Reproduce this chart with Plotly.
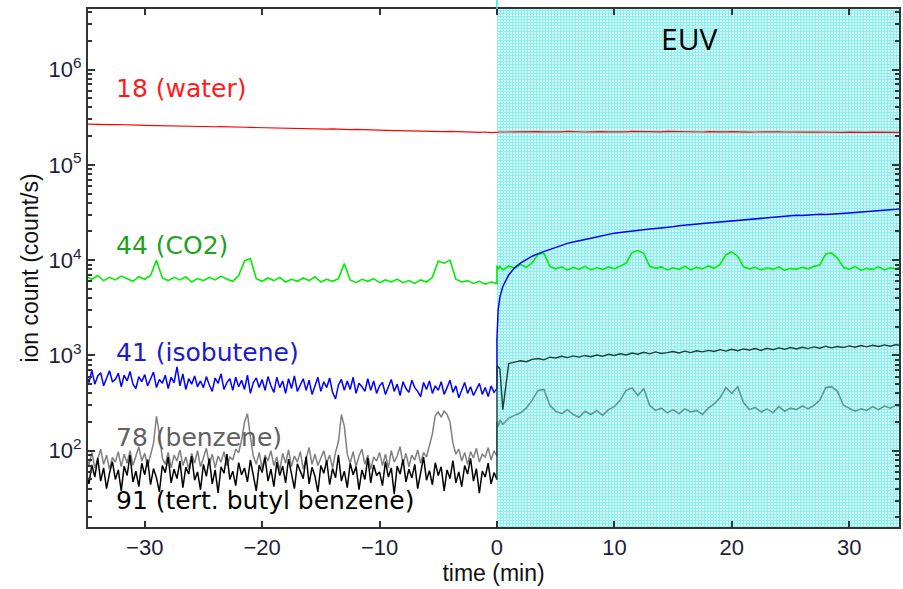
import plotly.graph_objects as go

# ---------------- data ----------------
pre_time = [-35.0 + 0.5 * i for i in range(71)]                 # -35 .. 0 (min), coarse
pre_time_fine = [-35.0 + 0.25 * i for i in range(141)]          # -35 .. 0 (min), fine
post_time = [0.0, 0.1, 0.25] + [0.5 * i for i in range(1, 71)]  # 0 .. 35 (min)

red_pre = [268000, 266000, 267000, 265000, 264000, 265000, 263000, 262000, 263000, 261000,
           260000, 259000, 260000, 258000, 257000, 258000, 256000, 255000, 254000, 255000,
           253000, 252000, 251000, 252000, 250000, 249000, 250000, 248000, 247000, 246000,
           247000, 245000, 244000, 243000, 244000, 242000, 241000, 240000, 241000, 239000,
           238000, 237000, 238000, 236000, 235000, 234000, 235000, 233000, 232000, 233000,
           231000, 230000, 229000, 230000, 228000, 227000, 228000, 226000, 225000, 226000,
           224000, 223000, 224000, 222000, 221000, 222000, 220000, 219000, 221000, 218000, 217000]
red_post = [219000, 220000, 221000, 222000, 221000, 222000, 223000, 221000, 222000, 223000,
            222000, 221000, 223000, 222000, 224000, 222000, 223000, 221000, 222000, 224000,
            223000, 222000, 221000, 223000, 222000, 224000, 223000, 221000, 222000, 223000,
            222000, 224000, 223000, 222000, 221000, 223000, 222000, 221000, 223000, 222000,
            221000, 222000, 223000, 221000, 222000, 220000, 221000, 222000, 221000, 220000,
            222000, 221000, 220000, 221000, 219000, 220000, 221000, 220000, 219000, 220000,
            221000, 219000, 220000, 219000, 218000, 219000, 220000, 219000, 218000, 219000,
            218000, 219000, 218000]

green_pre = [6700, 6300, 6900, 6100, 6600, 6200, 6800, 6400, 6000, 6700,
             6300, 6900, 10000, 6500, 6100, 6600, 6200, 6700, 5900, 6400,
             6100, 6600, 6200, 6800, 6300, 6000, 6900, 9800, 10400, 6400,
             6000, 6500, 6100, 6600, 5900, 6300, 6000, 6500, 6100, 6700,
             5900, 6300, 6000, 6400, 9200, 6200, 5800, 6300, 6000, 6400,
             5800, 6200, 5900, 6300, 5800, 6100, 5700, 6200, 5900, 6600,
             9800, 9300, 10000, 6300, 5900, 6100, 5700, 6000, 5600, 5900, 5700]
green_post = [8800, 8000, 8600, 7900, 8700, 8200, 9000, 8400, 9400, 11500,
              11800, 8600, 8100, 8500, 7900, 8400, 8000, 8600, 7900, 8300,
              8000, 8500, 8100, 8700, 9300, 12000, 12600, 11800, 8600, 8200,
              8500, 7900, 8300, 8000, 8600, 7900, 8400, 8100, 8700, 8200,
              9000, 11400, 12200, 11000, 8500, 8100, 8400, 7900, 8300, 8000,
              8500, 7800, 8200, 8000, 8400, 8100, 8600, 8900, 11600, 11900,
              10500, 8400, 8000, 8600, 7800, 8200, 8000, 8500, 7900, 8300,
              8100, 8600, 8200]

blue_pre = [640, 520, 700, 500, 610, 660, 480, 590, 690, 530,
            560, 650, 470, 620, 540, 680, 500, 450, 600, 530,
            630, 480, 580, 670, 460, 560, 510, 620, 450, 590,
            520, 760, 480, 640, 440, 570, 500, 610, 470, 540,
            460, 600, 490, 420, 580, 510, 640, 440, 520, 570,
            430, 590, 470, 550, 440, 620, 400, 520, 580, 460,
            560, 430, 600, 480, 410, 590, 460, 540, 400, 570,
            450, 610, 420, 500, 570, 430, 550, 390, 480, 590,
            420, 530, 460, 580, 410, 350, 490, 560, 430, 540,
            440, 590, 400, 510, 470, 420, 570, 430, 540, 400,
            480, 520, 390, 460, 560, 420, 500, 380, 530, 450,
            410, 550, 460, 420, 370, 520, 440, 540, 400, 480,
            430, 530, 390, 460, 550, 410, 480, 360, 440, 520,
            400, 470, 380, 450, 510, 390, 460, 370, 480, 410,
            450]
blue_post = [1500, 3000, 4100, 5300, 7000, 8300, 9300, 10200, 11000, 11700,
             12300, 12900, 13600, 14200, 15000, 15500, 16100, 16500, 17000, 17600,
             18100, 18600, 19200, 19500, 19900, 20200, 20600, 20900, 21200, 21500,
             21700, 22000, 22400, 22900, 23300, 23600, 23900, 24300, 24600, 24900,
             25200, 25700, 26000, 26400, 26800, 27000, 27100, 27500, 27900, 28200,
             28400, 28700, 29100, 29500, 29400, 29800, 30100, 30300, 30200, 30600,
             31000, 31200, 31300, 31600, 31900, 32100, 32600, 33000, 33300, 33700,
             34200, 34800, 35200]

gray_pre = [88, 70, 96, 66, 82, 104, 72, 90, 64, 85,
            76, 98, 68, 92, 74, 100, 70, 86, 110, 78,
            94, 68, 88, 120, 230, 150, 84, 72, 96, 66,
            90, 78, 102, 70, 86, 64, 94, 74, 100, 68,
            84, 106, 72, 92, 66, 88, 76, 98, 70, 86,
            80, 104, 95, 130, 200, 245, 140, 88, 72, 96,
            66, 90, 78, 100, 70, 86, 62, 94, 74, 102,
            68, 88, 76, 98, 64, 84, 108, 72, 92, 70,
            86, 100, 74, 90, 66, 96, 125, 240, 180, 92,
            74, 98, 68, 88, 104, 72, 90, 64, 86, 78,
            96, 70, 92, 66, 100, 76, 88, 110, 72, 94,
            68, 90, 80, 102, 74, 96, 86, 112, 150, 235,
            255, 225, 260, 240, 200, 120, 92, 104, 78, 96,
            72, 98, 84, 106, 76, 92, 86, 108, 80, 100,
            88]
gray_post = [200, 180, 210, 190, 220, 235, 250, 280, 340, 430,
             440, 300, 260, 245, 270, 240, 225, 260, 240, 265,
             235, 270, 290, 340, 430, 455, 380, 450, 300, 265,
             280, 250, 270, 245, 275, 255, 265, 240, 280, 310,
             360, 460, 400, 470, 320, 270, 285, 255, 275, 250,
             290, 260, 280, 270, 295, 275, 300, 340, 460, 470,
             420, 300, 280, 260, 275, 265, 290, 270, 295, 280,
             300, 285, 290]

black_pre = [62, 45, 71, 53, 84, 48, 66, 40, 58, 77,
             50, 63, 38, 69, 55, 90, 47, 61, 42, 74,
             56, 81, 44, 65, 52, 37, 70, 59, 86, 46,
             64, 51, 78, 41, 67, 57, 88, 49, 60, 39,
             72, 54, 83, 45, 63, 36, 68, 58, 92, 50,
             61, 43, 75, 56, 66, 47, 80, 53, 38, 71,
             59, 85, 48, 64, 42, 76, 55, 69, 46, 82,
             57, 40, 73, 62, 51, 87, 45, 67, 54, 37,
             70, 58, 79, 44, 65, 52, 90, 48, 61, 41,
             74, 56, 68, 39, 63, 50, 84, 46, 71, 55,
             60, 43, 77, 53, 66, 35, 69, 57, 81, 47,
             64, 52, 72, 40, 58, 86, 49, 62, 44, 75,
             55, 68, 38, 63, 51, 79, 46, 60, 42, 70,
             57, 83, 48, 65, 36, 61, 53, 74, 45, 59,
             50]
black_post = [780, 760, 720, 270, 820, 850, 880, 860, 910, 930,
              900, 960, 940, 980, 950, 990, 960, 1000, 970, 1010,
              980, 1030, 1000, 1040, 1010, 1060, 1030, 1080, 1040, 1090,
              1050, 1070, 1100, 1060, 1110, 1070, 1120, 1090, 1130, 1100,
              1150, 1110, 1160, 1120, 1170, 1140, 1180, 1130, 1190, 1150,
              1200, 1160, 1210, 1170, 1220, 1180, 1230, 1190, 1250, 1200,
              1240, 1210, 1260, 1220, 1270, 1230, 1280, 1240, 1290, 1250,
              1300, 1260, 1290]

x_ticks = [-30, -20, -10, 0, 10, 20, 30]
y_ticks = [1e2, 1e3, 1e4, 1e5, 1e6]
y_tick_text = ["10<sup>2</sup>", "10<sup>3</sup>", "10<sup>4</sup>", "10<sup>5</sup>", "10<sup>6</sup>"]
y_minor = [m * 10 ** e for e in range(1, 7) for m in range(2, 10)]

labels = ["18 (water)", "44 (CO2)", "41 (isobutene)", "78 (benzene)", "91 (tert. butyl benzene)"]
label_colors = ["#ff1a1a", "#22a022", "#1a1ad0", "#606060", "#000000"]

# ---------------- figure ----------------
fig = go.Figure()

# EUV exposure region (hatched cyan)
fig.add_trace(go.Scatter(
    x=[0, 40, 40, 0, 0], y=[1, 1, 1e8, 1e8, 1], mode="lines", fill="toself",
    line=dict(width=0, color="rgba(0,0,0,0)"),
    fillcolor="rgba(0,0,0,0)",
    fillpattern=dict(shape="+", fgcolor="#1ee0e0", bgcolor="white", size=3, solidity=0.7),
    hoverinfo="skip", showlegend=False))

def line(x, y, color, width=1.2):
    fig.add_trace(go.Scatter(x=x, y=y, mode="lines", line=dict(color=color, width=width),
                             showlegend=False, hoverinfo="skip"))

line(pre_time + post_time, red_pre + red_post, "#ff0000", 1.2)
line(pre_time + post_time, green_pre + green_post, "#00ee00", 1.6)
line(pre_time_fine + post_time, blue_pre + blue_post, "#0000ff", 1.5)
line(pre_time_fine, gray_pre, "#808080", 1.5)
line([0.0] + post_time, [gray_pre[-1]] + gray_post, "#5f9898", 1.6)
line(pre_time_fine, black_pre, "#000000", 1.5)
line([0.0] + post_time, [black_pre[-1]] + black_post, "#17403f", 1.4)

label_y = [5.806, 4.158, 3.036, 2.144, 1.483]
for txt, col, ly in zip(labels, label_colors, label_y):
    fig.add_annotation(x=-32.6, y=ly, text=txt, showarrow=False, xanchor="left", yanchor="middle",
                       font=dict(family="DejaVu Sans", size=25, color=col))

fig.add_annotation(x=16.4, y=6.33, text="EUV", showarrow=False, xanchor="center", yanchor="middle",
                   font=dict(family="Open Sans", size=30, color="#000000"))

fig.add_shape(type="line", xref="x", yref="paper", x0=0, x1=0, y0=1, y1=1.02,
              line=dict(color="#2ee6e6", width=1.5))

axis_font = dict(family="Liberation Sans", size=22, color="#1e1e3a")
fig.update_xaxes(range=[-34.83, 34.24], tickvals=x_ticks, ticks="inside", ticklen=6, tickwidth=1.5,
                 tickcolor="#333", showline=True, linecolor="#333", linewidth=2, mirror="ticks",
                 showgrid=False, zeroline=False, tickfont=axis_font,
                 title=dict(text="time (min)", font=dict(family="Liberation Sans", size=23, color="#111"),
                            standoff=2))
fig.update_yaxes(type="log", range=[1.2, 6.635], tickvals=y_ticks, ticktext=y_tick_text,
                 ticks="inside", ticklen=7, tickwidth=1.5, tickcolor="#333",
                 showline=True, linecolor="#333", linewidth=2, mirror="ticks",
                 showgrid=False, zeroline=False, tickfont=axis_font,
                 minor=dict(tickvals=y_minor, ticks="inside", ticklen=4, tickcolor="#333", showgrid=False),
                 title=dict(text="ion count (count/s)", font=dict(family="Liberation Sans", size=23, color="#111"),
                            standoff=4))

fig.update_layout(width=903, height=589, margin=dict(l=88, r=2, t=9, b=62),
                  paper_bgcolor="white", plot_bgcolor="white", showlegend=False)

fig.write_html("out.html")
